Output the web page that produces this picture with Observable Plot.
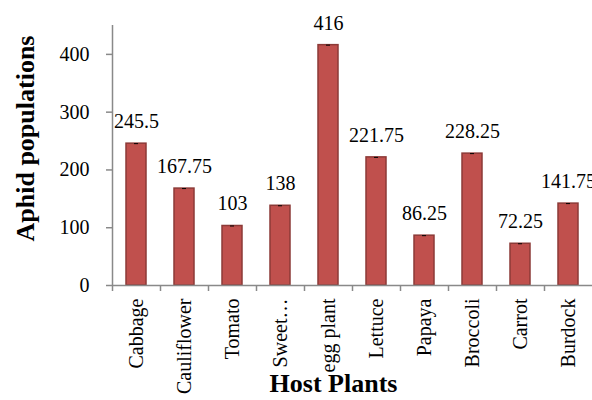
<!DOCTYPE html>
<html>
<head>
<meta charset="utf-8">
<script src="https://cdn.jsdelivr.net/npm/d3@7"></script>
<script src="https://cdn.jsdelivr.net/npm/@observablehq/plot@0.6"></script>
<style>
  html, body { margin: 0; padding: 0; background: #fff; }
  svg text { font-family: "Liberation Serif", "Times New Roman", Times, serif; }
</style>
</head>
<body>
<div id="chart"></div>
<script>
const categories = ["Cabbage", "Cauliflower", "Tomato", "Sweet…", "egg plant", "Lettuce", "Papaya", "Broccoli", "Carrot", "Burdock"];
const values = [245.5, 167.75, 103, 138, 416, 221.75, 86.25, 228.25, 72.25, 141.75];
const valueLabels = ["245.5", "167.75", "103", "138", "416", "221.75", "86.25", "228.25", "72.25", "141.75"];
const yTicks = [0, 100, 200, 300, 400];
const yTitle = "Aphid populations";
const xTitle = "Host Plants";

const data = categories.map((c, i) => ({name: c, value: values[i], label: valueLabels[i]}));

const W = 592, H = 400, ML = 112, MR = 0, MT = 25, MB = 115;
const band = (W - ML - MR) / categories.length;
const gray = "#898989";
const font = "Liberation Serif, Times New Roman, Times, serif";

const chart = Plot.plot({
  width: W, height: H,
  marginLeft: ML, marginRight: MR, marginTop: MT, marginBottom: MB,
  style: {fontFamily: font, fontSize: "20px", color: "#000", background: "#fff", overflow: "visible"},
  x: {domain: categories, padding: 0, label: null},
  y: {domain: [0, 450], label: null},
  marks: [
    Plot.barY(data, {x: "name", y: "value", fill: "#c0504d", stroke: "#8c3a37", strokeWidth: 1.5, insetLeft: 14, insetRight: 14}),
    Plot.tickY(data, {x: "name", y: "value", stroke: "#000", strokeWidth: 1, inset: 22}),
    Plot.ruleY([0], {stroke: gray, strokeWidth: 1.5}),
    Plot.ruleX([categories[0]], {x: d => d, dx: -band / 2, y1: 0, y2: 450, stroke: gray, strokeWidth: 1.5}),
    Plot.axisX({tickSize: 6, tickFormat: () => "", dx: -band / 2, stroke: gray, strokeWidth: 1.5, label: null}),
    Plot.axisX({tickSize: 0, tickPadding: 13, tickRotate: -90, label: null, fill: "#000", fontSize: 20, fontFamily: font}),
    Plot.axisY({ticks: yTicks, tickSize: 6, tickPadding: 17, stroke: gray, strokeWidth: 1.5, fill: "#000", label: null, fontSize: 20, fontFamily: font}),
    Plot.text(data, {x: "name", y: "value", text: "label", dy: -22, fill: "#000", fontSize: 20, fontFamily: font}),
    Plot.text([xTitle], {text: d => d, frameAnchor: "bottom", textAnchor: "middle", dx: -19, dy: 106, fontWeight: "bold", fontSize: 26, fill: "#000", fontFamily: font}),
    Plot.text([yTitle], {text: d => d, frameAnchor: "left", textAnchor: "middle", rotate: -90, dx: -87, dy: -17, fontWeight: "bold", fontSize: 26, fill: "#000", fontFamily: font})
  ]
});
document.getElementById("chart").appendChild(chart);
</script>
</body>
</html>
